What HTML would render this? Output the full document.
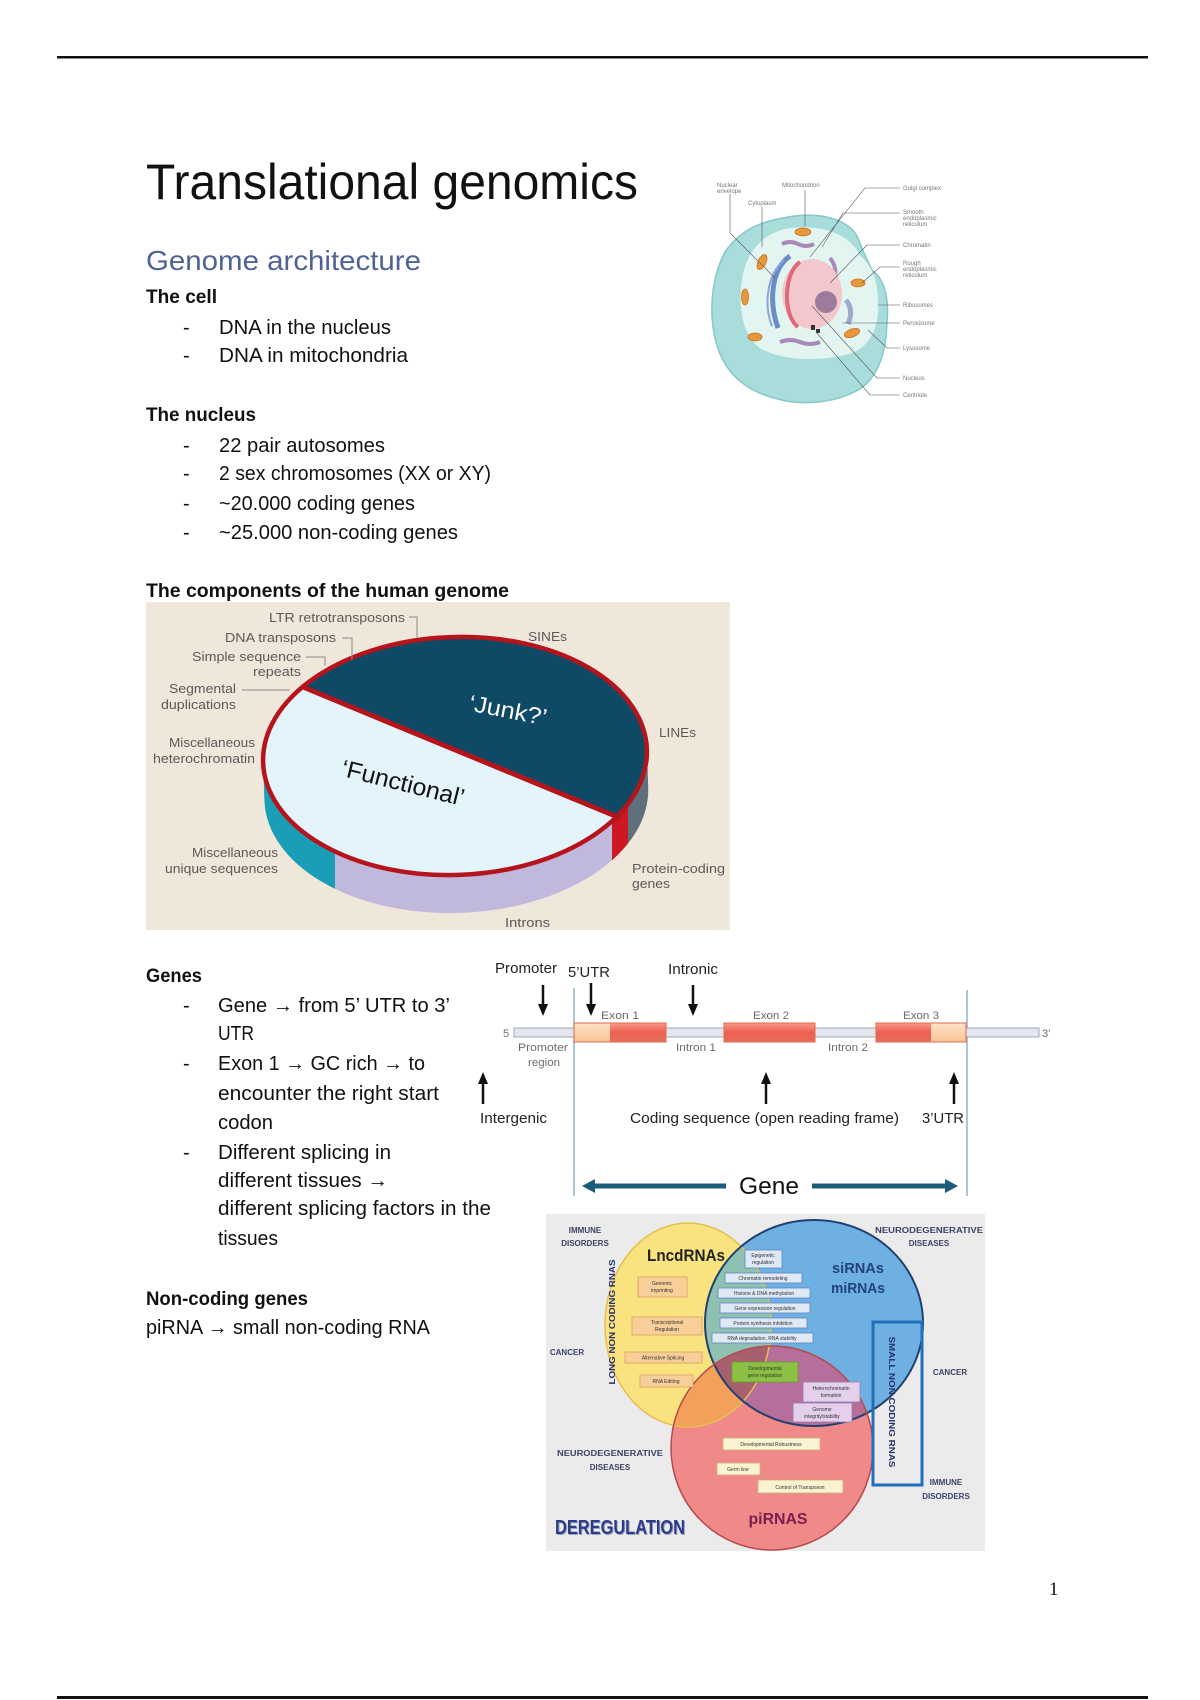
<!DOCTYPE html>
<html><head><meta charset="utf-8"><style>
html,body{margin:0;padding:0;background:#fff;}
svg{display:block;}
</style></head><body>
<svg width="1200" height="1700" viewBox="0 0 1200 1700" xmlns="http://www.w3.org/2000/svg" font-family="'Liberation Sans', sans-serif">
<defs>
  <clipPath id="topEl"><ellipse cx="455" cy="756" rx="192" ry="119" transform="rotate(-2 455 756)"/></clipPath>
  <clipPath id="cyl"><rect x="263" y="756" width="384" height="38" transform="rotate(-2 455 756)"/><ellipse cx="455" cy="794" rx="192" ry="119" transform="rotate(-2 455 756)"/></clipPath>
  <clipPath id="cY"><ellipse cx="688" cy="1325" rx="83" ry="102"/></clipPath>
  <clipPath id="cB"><ellipse cx="814" cy="1323" rx="109" ry="103"/></clipPath>
  <clipPath id="cR"><ellipse cx="772" cy="1448" rx="101" ry="102"/></clipPath>
  <linearGradient id="exR" x1="0" y1="0" x2="0" y2="1"><stop offset="0" stop-color="#f89a88"/><stop offset="0.5" stop-color="#ee5f50"/><stop offset="1" stop-color="#e4705e"/></linearGradient>
  <linearGradient id="exL" x1="0" y1="0" x2="0" y2="1"><stop offset="0" stop-color="#fde2c8"/><stop offset="1" stop-color="#f9c394"/></linearGradient>
</defs>

<!-- page rules -->
<rect x="57" y="56" width="1091" height="2.5" fill="#111"/>
<rect x="57" y="1696" width="1091" height="3" fill="#111"/>

<!-- Title -->
<text x="146" y="199" font-size="50" fill="#111" textLength="492" lengthAdjust="spacingAndGlyphs">Translational genomics</text>
<text x="146" y="270" font-size="28" fill="#4f6296" textLength="275" lengthAdjust="spacingAndGlyphs">Genome architecture</text>

<!-- Section 1 text -->
<g fill="#111" font-size="20">
<text x="146" y="303" font-weight="bold" font-size="19.5" textLength="71" lengthAdjust="spacingAndGlyphs">The cell</text>
<text x="183" y="334">-</text><text x="219" y="334" textLength="172" lengthAdjust="spacingAndGlyphs">DNA in the nucleus</text>
<text x="183" y="362">-</text><text x="219" y="362" textLength="189" lengthAdjust="spacingAndGlyphs">DNA in mitochondria</text>
<text x="146" y="421" font-weight="bold" font-size="19.5" textLength="110" lengthAdjust="spacingAndGlyphs">The nucleus</text>
<text x="183" y="452">-</text><text x="219" y="452" textLength="166" lengthAdjust="spacingAndGlyphs">22 pair autosomes</text>
<text x="183" y="480">-</text><text x="219" y="480" textLength="272" lengthAdjust="spacingAndGlyphs">2 sex chromosomes (XX or XY)</text>
<text x="183" y="510">-</text><text x="219" y="510" textLength="196" lengthAdjust="spacingAndGlyphs">~20.000 coding genes</text>
<text x="183" y="539">-</text><text x="219" y="539" textLength="239" lengthAdjust="spacingAndGlyphs">~25.000 non-coding genes</text>
<text x="146" y="597" font-weight="bold" font-size="19.5" textLength="363" lengthAdjust="spacingAndGlyphs">The components of the human genome</text>
</g>

<!-- Cell image -->
<g>
  <path d="M783,218 C820,210 850,220 858,238 C863,252 868,262 872,270 C886,280 889,302 887,322 C886,352 879,376 860,389 C834,404 800,406 774,398 C744,390 724,372 716,342 C708,312 712,276 725,252 C740,230 760,222 783,218 Z" fill="#a9dddc" stroke="#86c8c8" stroke-width="1.5"/>
  <path d="M790,228 C825,224 852,236 860,256 C870,262 878,280 878,300 C880,330 868,350 845,355 C815,362 780,360 760,348 C742,336 738,305 742,280 C746,250 765,232 790,228 Z" fill="#e3f5f1"/>
  <ellipse cx="803" cy="232" rx="8" ry="4" fill="#e8983c" stroke="#c8701e" stroke-width="0.8"/>
  <ellipse cx="762" cy="262" rx="4" ry="8" transform="rotate(25 762 262)" fill="#e8983c" stroke="#c8701e" stroke-width="0.8"/>
  <ellipse cx="745" cy="297" rx="3.5" ry="8" fill="#e8983c" stroke="#c8701e" stroke-width="0.8"/>
  <ellipse cx="755" cy="337" rx="7" ry="4" fill="#e8983c" stroke="#c8701e" stroke-width="0.8"/>
  <ellipse cx="852" cy="333" rx="8" ry="4" transform="rotate(-20 852 333)" fill="#e8983c" stroke="#c8701e" stroke-width="0.8"/>
  <ellipse cx="858" cy="283" rx="7" ry="4" fill="#e8983c" stroke="#c8701e" stroke-width="0.8"/>
  <path d="M782,244 q8,-4 16,0 q8,4 16,0" stroke="#a88ab8" stroke-width="4" fill="none"/>
  <path d="M780,342 q10,-4 20,0 q10,4 20,0" stroke="#a88ab8" stroke-width="4" fill="none"/>
  <path d="M830,258 q8,10 4,22" stroke="#a88ab8" stroke-width="4" fill="none"/>
  <path d="M846,300 q8,10 2,24" stroke="#9fa8d0" stroke-width="5" fill="none"/>
  <path d="M790,256 C772,268 768,300 778,328" stroke="#6a8cc8" stroke-width="5" fill="none"/>
  <path d="M784,260 C766,276 764,306 772,326" stroke="#8aa6d8" stroke-width="2" fill="none"/>
  <ellipse cx="812" cy="294" rx="30" ry="35" fill="#f3c8cc"/>
  <path d="M800,262 C784,272 782,315 798,327" stroke="#e06878" stroke-width="4" fill="none"/>
  <circle cx="826" cy="302" r="11" fill="#9c7c9a"/>
  <rect x="811" y="325" width="4" height="5" fill="#333"/><rect x="816" y="329" width="4" height="4" fill="#333"/>
  <g stroke="#555" stroke-width="0.6" fill="none">
    <path d="M900,188 L865,188 L810,257"/>
    <path d="M900,213 L843,213 L822,247"/>
    <path d="M900,245 L867,245 L830,283"/>
    <path d="M900,267 L880,267 L862,283"/>
    <path d="M900,305 L878,305"/>
    <path d="M900,323 L842,323"/>
    <path d="M900,348 L887,348 L868,330"/>
    <path d="M900,378 L877,378 L812,306"/>
    <path d="M900,395 L870,395 L816,332"/>
    <path d="M730,194 L730,233 L775,278"/>
    <path d="M762,207 L762,247"/>
    <path d="M805,190 L805,226"/>
  </g>
  <g font-size="6" fill="#777">
    <text x="903" y="190">Golgi complex</text>
    <text x="903" y="214">Smooth</text><text x="903" y="220">endoplasmic</text><text x="903" y="226">reticulum</text>
    <text x="903" y="247">Chromatin</text>
    <text x="903" y="265">Rough</text><text x="903" y="271">endoplasmic</text><text x="903" y="277">reticulum</text>
    <text x="903" y="307">Ribosomes</text>
    <text x="903" y="325">Peroxisome</text>
    <text x="903" y="350">Lysosome</text>
    <text x="903" y="380">Nucleus</text>
    <text x="903" y="397">Centriole</text>
    <text x="717" y="187">Nuclear</text><text x="717" y="193">envelope</text>
    <text x="782" y="187">Mitochondrion</text>
    <text x="748" y="205">Cytoplasm</text>
  </g>
</g>

<!-- Pie chart figure -->
<rect x="146" y="602" width="584" height="328" fill="#efe7d9"/>
<g clip-path="url(#cyl)">
  <rect x="250" y="740" width="85" height="200" fill="#1a9db6"/>
  <rect x="335" y="740" width="277" height="200" fill="#c1b9dc"/>
  <rect x="612" y="740" width="16" height="200" fill="#cc1820"/>
  <rect x="628" y="740" width="30" height="200" fill="#5e707b"/>
</g>
<ellipse cx="455" cy="756" rx="192" ry="119" transform="rotate(-2 455 756)" fill="#e4f4fb"/>
<polygon points="200,644.5 700,851 700,500 200,500" fill="#0e4966" clip-path="url(#topEl)"/>
<line x1="303" y1="687" x2="620" y2="818" stroke="#b5141c" stroke-width="5"/>
<ellipse cx="455" cy="756" rx="192" ry="119" transform="rotate(-2 455 756)" fill="none" stroke="#b5141c" stroke-width="4.5"/>
<text x="508" y="718" font-size="23" fill="#fff" text-anchor="middle" transform="rotate(11 508 710)" textLength="79" lengthAdjust="spacingAndGlyphs">‘Junk?’</text>
<text x="403" y="791" font-size="24" fill="#111" text-anchor="middle" transform="rotate(14 403 783)" textLength="126" lengthAdjust="spacingAndGlyphs">‘Functional’</text>
<g stroke="#8a8a8a" stroke-width="1" fill="none">
  <path d="M409,617 L417,617 L417,638"/>
  <path d="M342,638 L352,638 L352,660"/>
  <path d="M306,657 L325,657 L325,666"/>
  <path d="M242,690 L290,690"/>
</g>
<g font-size="13" fill="#5a5a5a">
  <text x="269" y="622" textLength="136" lengthAdjust="spacingAndGlyphs">LTR retrotransposons</text>
  <text x="225" y="642" textLength="111" lengthAdjust="spacingAndGlyphs">DNA transposons</text>
  <text x="192" y="661" textLength="109" lengthAdjust="spacingAndGlyphs">Simple sequence</text>
  <text x="253" y="676" textLength="48" lengthAdjust="spacingAndGlyphs">repeats</text>
  <text x="169" y="693" textLength="67" lengthAdjust="spacingAndGlyphs">Segmental</text>
  <text x="161" y="709" textLength="75" lengthAdjust="spacingAndGlyphs">duplications</text>
  <text x="169" y="747" textLength="86" lengthAdjust="spacingAndGlyphs">Miscellaneous</text>
  <text x="153" y="763" textLength="102" lengthAdjust="spacingAndGlyphs">heterochromatin</text>
  <text x="192" y="857" textLength="86" lengthAdjust="spacingAndGlyphs">Miscellaneous</text>
  <text x="165" y="873" textLength="113" lengthAdjust="spacingAndGlyphs">unique sequences</text>
  <text x="528" y="641" textLength="39" lengthAdjust="spacingAndGlyphs">SINEs</text>
  <text x="659" y="737" textLength="37" lengthAdjust="spacingAndGlyphs">LINEs</text>
  <text x="632" y="873" textLength="93" lengthAdjust="spacingAndGlyphs">Protein-coding</text>
  <text x="632" y="888" textLength="38" lengthAdjust="spacingAndGlyphs">genes</text>
  <text x="505" y="927" textLength="45" lengthAdjust="spacingAndGlyphs">Introns</text>
</g>

<!-- Genes text -->
<g fill="#111" font-size="20">
<text x="146" y="982" font-weight="bold" font-size="19.5" textLength="56" lengthAdjust="spacingAndGlyphs">Genes</text>
<text x="183" y="1012">-</text><text x="218" y="1012" textLength="232" lengthAdjust="spacingAndGlyphs">Gene <tspan font-weight="bold">→</tspan> from 5’ UTR to 3’</text>
<text x="218" y="1040" textLength="36" lengthAdjust="spacingAndGlyphs">UTR</text>
<text x="183" y="1070">-</text><text x="218" y="1070" textLength="207" lengthAdjust="spacingAndGlyphs">Exon 1 <tspan font-weight="bold">→</tspan> GC rich <tspan font-weight="bold">→</tspan> to</text>
<text x="218" y="1100" textLength="221" lengthAdjust="spacingAndGlyphs">encounter the right start</text>
<text x="218" y="1129" textLength="55" lengthAdjust="spacingAndGlyphs">codon</text>
<text x="183" y="1159">-</text><text x="218" y="1159" textLength="173" lengthAdjust="spacingAndGlyphs">Different splicing in</text>
<text x="218" y="1187" textLength="170" lengthAdjust="spacingAndGlyphs">different tissues <tspan font-weight="bold">→</tspan></text>
<text x="218" y="1215" textLength="273" lengthAdjust="spacingAndGlyphs">different splicing factors in the</text>
<text x="218" y="1245" textLength="60" lengthAdjust="spacingAndGlyphs">tissues</text>
<text x="146" y="1305" font-weight="bold" font-size="19.5" textLength="162" lengthAdjust="spacingAndGlyphs">Non-coding genes</text>
<text x="146" y="1334" textLength="284" lengthAdjust="spacingAndGlyphs">piRNA <tspan font-weight="bold">→</tspan> small non-coding RNA</text>
</g>

<!-- Gene structure diagram -->
<g>
  <line x1="574" y1="988" x2="574" y2="1196" stroke="#8db3c3" stroke-width="1.5"/>
  <line x1="967" y1="990" x2="967" y2="1196" stroke="#8db3c3" stroke-width="1.5"/>
  <rect x="514" y="1028" width="525" height="9" fill="#e3e6ee" stroke="#a2a7b6" stroke-width="1"/>
  <rect x="574" y="1023" width="36" height="19" fill="url(#exL)"/>
  <rect x="610" y="1023" width="56" height="19" fill="url(#exR)"/>
  <rect x="574" y="1023" width="92" height="19" fill="none" stroke="#e06a50" stroke-width="1"/>
  <rect x="724" y="1023" width="91" height="19" fill="url(#exR)" stroke="#e06a50" stroke-width="1"/>
  <rect x="876" y="1023" width="55" height="19" fill="url(#exR)"/>
  <rect x="931" y="1023" width="35" height="19" fill="url(#exL)"/>
  <rect x="876" y="1023" width="90" height="19" fill="none" stroke="#e06a50" stroke-width="1"/>
  <g stroke="#111" stroke-width="2.5">
    <line x1="543" y1="985" x2="543" y2="1006"/>
    <line x1="591" y1="983" x2="591" y2="1006"/>
    <line x1="693" y1="985" x2="693" y2="1006"/>
    <line x1="483" y1="1081" x2="483" y2="1104"/>
    <line x1="766" y1="1081" x2="766" y2="1104"/>
    <line x1="954" y1="1081" x2="954" y2="1104"/>
  </g>
  <g fill="#111">
    <polygon points="538,1004 548,1004 543,1016"/>
    <polygon points="586,1004 596,1004 591,1016"/>
    <polygon points="688,1004 698,1004 693,1016"/>
    <polygon points="478,1084 488,1084 483,1072"/>
    <polygon points="761,1084 771,1084 766,1072"/>
    <polygon points="949,1084 959,1084 954,1072"/>
  </g>
  <g font-size="14.5" fill="#222">
    <text x="495" y="973" textLength="62" lengthAdjust="spacingAndGlyphs">Promoter</text>
    <text x="568" y="977" textLength="42" lengthAdjust="spacingAndGlyphs">5’UTR</text>
    <text x="668" y="974" textLength="50" lengthAdjust="spacingAndGlyphs">Intronic</text>
    <text x="480" y="1123" textLength="67" lengthAdjust="spacingAndGlyphs">Intergenic</text>
    <text x="630" y="1123" textLength="269" lengthAdjust="spacingAndGlyphs">Coding sequence (open reading frame)</text>
    <text x="922" y="1123" textLength="42" lengthAdjust="spacingAndGlyphs">3’UTR</text>
  </g>
  <g font-size="11" fill="#6a6a6a">
    <text x="601" y="1019" textLength="38" lengthAdjust="spacingAndGlyphs">Exon 1</text>
    <text x="753" y="1019" textLength="36" lengthAdjust="spacingAndGlyphs">Exon 2</text>
    <text x="903" y="1019" textLength="36" lengthAdjust="spacingAndGlyphs">Exon 3</text>
    <text x="503" y="1037">5</text>
    <text x="1042" y="1037">3’</text>
    <text x="518" y="1051" textLength="50" lengthAdjust="spacingAndGlyphs">Promoter</text>
    <text x="528" y="1066" textLength="32" lengthAdjust="spacingAndGlyphs">region</text>
    <text x="676" y="1051" textLength="40" lengthAdjust="spacingAndGlyphs">Intron 1</text>
    <text x="828" y="1051" textLength="40" lengthAdjust="spacingAndGlyphs">Intron 2</text>
  </g>
  <line x1="592" y1="1186" x2="726" y2="1186" stroke="#1b5c7a" stroke-width="5"/>
  <polygon points="582,1186 595,1179 595,1193" fill="#1b5c7a"/>
  <line x1="812" y1="1186" x2="948" y2="1186" stroke="#1b5c7a" stroke-width="5"/>
  <polygon points="958,1186 945,1179 945,1193" fill="#1b5c7a"/>
  <text x="739" y="1194" font-size="24" fill="#111" textLength="60" lengthAdjust="spacingAndGlyphs">Gene</text>
</g>

<!-- Venn diagram -->
<rect x="546" y="1214" width="439" height="337" fill="#ebebec"/>
<ellipse cx="688" cy="1325" rx="83" ry="102" fill="#f9e37e"/>
<ellipse cx="814" cy="1323" rx="109" ry="103" fill="#6fb0e3"/>
<ellipse cx="772" cy="1448" rx="101" ry="102" fill="#ef8a88"/>
<g clip-path="url(#cY)"><ellipse cx="814" cy="1323" rx="109" ry="103" fill="#8fc1b2"/><ellipse cx="772" cy="1448" rx="101" ry="102" fill="#f2a05c"/></g>
<g clip-path="url(#cB)"><ellipse cx="772" cy="1448" rx="101" ry="102" fill="#b56f9a"/></g>
<g clip-path="url(#cB)"><g clip-path="url(#cY)"><ellipse cx="772" cy="1448" rx="101" ry="102" fill="#a8606e"/></g></g>
<ellipse cx="688" cy="1325" rx="83" ry="102" fill="none" stroke="#e9bd52" stroke-width="1.5"/>
<ellipse cx="814" cy="1323" rx="109" ry="103" fill="none" stroke="#22406e" stroke-width="2"/>
<ellipse cx="772" cy="1448" rx="101" ry="102" fill="none" stroke="#b84a4c" stroke-width="1.5"/>
<rect x="873" y="1322" width="49" height="163" fill="none" stroke="#1f6fbd" stroke-width="3"/>
<!-- small boxes -->
<g stroke-width="0.8" font-size="5" fill="#333" text-anchor="middle">
  <rect x="638" y="1277" width="49" height="20" fill="#f8cf98" stroke="#d8a060"/><text x="662" y="1285" stroke="none">Genomic</text><text x="662" y="1292" stroke="none">imprinting</text>
  <rect x="632" y="1317" width="70" height="18" fill="#f8cf98" stroke="#d8a060"/><text x="667" y="1324" stroke="none">Transcriptional</text><text x="667" y="1331" stroke="none">Regulation</text>
  <rect x="625" y="1352" width="77" height="11" fill="#f8cf98" stroke="#d8a060"/><text x="663" y="1359.5" stroke="none">Alternative Splicing</text>
  <rect x="640" y="1375" width="53" height="12" fill="#f8cf98" stroke="#d8a060"/><text x="666" y="1383" stroke="none">RNA Editing</text>
  <rect x="745" y="1250" width="37" height="18" fill="#dfe8f5" stroke="#5a86c0"/><text x="763" y="1257" stroke="none">Epigenetic</text><text x="763" y="1264" stroke="none">regulation</text>
  <rect x="725" y="1273" width="77" height="10" fill="#dfe8f5" stroke="#5a86c0"/><text x="763" y="1280" stroke="none">Chromatin remodeling</text>
  <rect x="718" y="1288" width="92" height="10" fill="#dfe8f5" stroke="#5a86c0"/><text x="764" y="1295" stroke="none">Histone &amp; DNA methylation</text>
  <rect x="720" y="1303" width="90" height="10" fill="#dfe8f5" stroke="#5a86c0"/><text x="765" y="1310" stroke="none">Gene expression regulation</text>
  <rect x="720" y="1318" width="87" height="10" fill="#dfe8f5" stroke="#5a86c0"/><text x="763" y="1325" stroke="none">Protein synthesis inhibition</text>
  <rect x="712" y="1333" width="101" height="10" fill="#dfe8f5" stroke="#5a86c0"/><text x="762" y="1340" stroke="none">RNA degradation, RNA stability</text>
  <rect x="732" y="1362" width="66" height="20" fill="#8cc043" stroke="#6a9a30"/><text x="765" y="1370" stroke="none">Developmental</text><text x="765" y="1377" stroke="none">gene regulation</text>
  <rect x="803" y="1382" width="57" height="20" fill="#e4d0ea" stroke="#9a78b0"/><text x="831" y="1390" stroke="none">Heterochromatin</text><text x="831" y="1397" stroke="none">formation</text>
  <rect x="793" y="1403" width="59" height="19" fill="#e4d0ea" stroke="#9a78b0"/><text x="822" y="1411" stroke="none">Genome</text><text x="822" y="1418" stroke="none">integrity/stability</text>
  <rect x="723" y="1438" width="97" height="12" fill="#faf3d2" stroke="#d0b070"/><text x="771" y="1446" stroke="none">Developmental Robustness</text>
  <rect x="717" y="1463" width="43" height="12" fill="#faf3d2" stroke="#d0b070"/><text x="738" y="1471" stroke="none">Germ line</text>
  <rect x="758" y="1480" width="85" height="13" fill="#faf3d2" stroke="#d0b070"/><text x="800" y="1489" stroke="none">Control of Transposon</text>
</g>
<g font-weight="bold" font-size="8" fill="#3c4366" text-anchor="middle">
  <text x="585" y="1233">IMMUNE</text><text x="585" y="1246">DISORDERS</text>
  <text x="929" y="1233" textLength="108" lengthAdjust="spacingAndGlyphs">NEURODEGENERATIVE</text><text x="929" y="1246">DISEASES</text>
  <text x="567" y="1355">CANCER</text>
  <text x="950" y="1375">CANCER</text>
  <text x="610" y="1456" textLength="106" lengthAdjust="spacingAndGlyphs">NEURODEGENERATIVE</text><text x="610" y="1470">DISEASES</text>
  <text x="946" y="1485">IMMUNE</text><text x="946" y="1499">DISORDERS</text>
</g>
<text x="618" y="1325" font-size="8.5" font-weight="bold" fill="#26306a" text-anchor="middle" transform="rotate(-90 615 1325)" textLength="125" lengthAdjust="spacingAndGlyphs">LONG NON CODING RNAS</text>
<text x="892" y="1405" font-size="8.5" font-weight="bold" fill="#26306a" text-anchor="middle" transform="rotate(90 892 1402)" textLength="131" lengthAdjust="spacingAndGlyphs">SMALL NON CODING RNAS</text>
<text x="647" y="1261" font-size="17" font-weight="bold" fill="#222" textLength="78" lengthAdjust="spacingAndGlyphs">LncdRNAs</text>
<text x="858" y="1273" font-size="15" font-weight="bold" fill="#24427a" text-anchor="middle" textLength="52" lengthAdjust="spacingAndGlyphs">siRNAs</text>
<text x="858" y="1293" font-size="15" font-weight="bold" fill="#24427a" text-anchor="middle" textLength="54" lengthAdjust="spacingAndGlyphs">miRNAs</text>
<text x="778" y="1524" font-size="16" font-weight="bold" fill="#7a1e50" text-anchor="middle" textLength="59" lengthAdjust="spacingAndGlyphs">piRNAS</text>
<text x="556" y="1535" font-size="20" font-weight="bold" fill="#9aa0c0" textLength="130" lengthAdjust="spacingAndGlyphs">DEREGULATION</text>
<text x="555" y="1534" font-size="20" font-weight="bold" fill="#2c3c88" textLength="130" lengthAdjust="spacingAndGlyphs">DEREGULATION</text>

<!-- page number -->
<text x="1049" y="1595" font-family="'Liberation Serif', serif" font-size="19" fill="#111">1</text>
</svg>
</body></html>
